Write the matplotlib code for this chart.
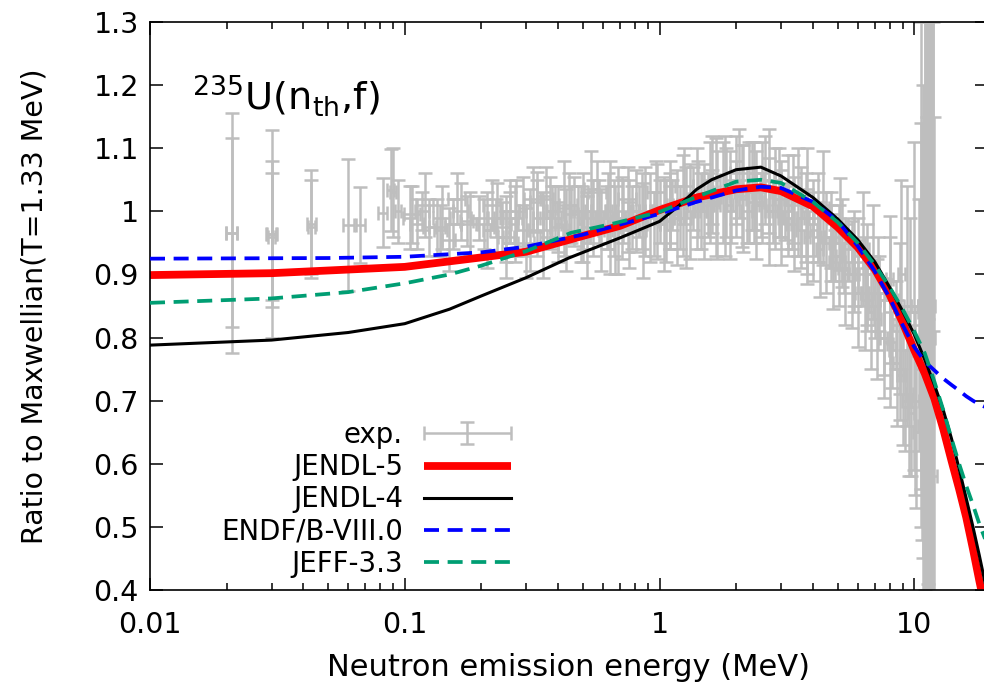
import matplotlib
matplotlib.use('Agg')
import matplotlib.pyplot as plt
import numpy as np
from matplotlib.container import ErrorbarContainer
from matplotlib.legend_handler import HandlerErrorbar
from matplotlib.ticker import FixedLocator, LogLocator, NullFormatter

plt.rcParams['font.family'] = ['DejaVu Sans']

# evaluated spectra, ratio to Maxwellian
e_jendl5 = [0.01, 0.03, 0.1, 0.2, 0.3, 0.5, 0.7, 1.0, 1.4, 2.0, 2.5, 3.0, 4.0, 5.0,
            6.0, 7.0, 8.0, 9.0, 10, 11, 12, 13, 14, 15, 16, 17, 18, 19]
r_jendl5 = [0.899, 0.902, 0.912, 0.927, 0.936, 0.961, 0.977, 1.002, 1.022, 1.035, 1.038,
            1.032, 1.008, 0.975, 0.943, 0.908, 0.868, 0.824, 0.780, 0.743, 0.703, 0.655,
            0.605, 0.560, 0.515, 0.465, 0.415, 0.370]

e_jendl4 = [0.01, 0.03, 0.06, 0.1, 0.15, 0.2, 0.3, 0.44, 0.7, 1.0, 1.2, 1.4, 1.6, 2.0,
            2.5, 3.0, 4.0, 5.0, 6.0, 7.0, 8.0, 9.0, 10, 11, 12, 13, 14, 15, 16, 17, 18, 19]
r_jendl4 = [0.788, 0.796, 0.808, 0.822, 0.845, 0.866, 0.895, 0.926, 0.958, 0.984, 1.010,
            1.035, 1.050, 1.066, 1.070, 1.056, 1.022, 0.988, 0.955, 0.920, 0.880, 0.842,
            0.805, 0.765, 0.725, 0.685, 0.640, 0.592, 0.545, 0.500, 0.455, 0.410]

e_endf = [0.01, 0.05, 0.1, 0.2, 0.3, 0.5, 0.7, 1.0, 1.4, 2.0, 2.5, 3.0, 4.0, 5.0, 6.0,
          7.0, 8.0, 9.0, 10, 11, 12, 13, 14, 15, 16, 17, 18, 19]
r_endf = [0.925, 0.926, 0.928, 0.935, 0.944, 0.963, 0.979, 0.996, 1.015, 1.033, 1.039,
          1.037, 1.015, 0.985, 0.945, 0.905, 0.863, 0.820, 0.785, 0.762, 0.748, 0.735,
          0.725, 0.716, 0.707, 0.700, 0.694, 0.690]

e_jeff = [0.01, 0.03, 0.06, 0.1, 0.15, 0.2, 0.3, 0.45, 0.65, 1.0, 1.4, 2.0, 2.5, 3.0,
          4.0, 5.0, 6.0, 7.0, 8.0, 9.0, 10, 11, 12, 13, 14, 15, 16, 17, 18, 19]
r_jeff = [0.855, 0.862, 0.872, 0.886, 0.900, 0.914, 0.937, 0.966, 0.980, 0.999, 1.023,
          1.047, 1.050, 1.045, 1.015, 0.983, 0.950, 0.915, 0.880, 0.845, 0.810, 0.775,
          0.730, 0.685, 0.640, 0.600, 0.565, 0.535, 0.505, 0.480]

# experimental points: energy, ratio, y error, relative half bin width
exp_e = [0.021, 0.021, 0.030, 0.030, 0.030, 0.043, 0.043, 0.060, 0.067, 0.082, 0.088,
         0.090, 0.094, 0.105, 0.107, 0.112, 0.117, 0.125, 0.134, 0.138, 0.149, 0.155,
         0.166, 0.175, 0.196, 0.205, 0.228, 0.24, 0.26, 0.273, 0.29, 0.30, 0.33, 0.35,
         0.36, 0.39, 0.42, 0.45, 0.48, 0.52, 0.54, 0.58, 0.62, 0.64, 0.69, 0.72, 0.78,
         0.83, 0.88, 0.95, 1.0, 1.06, 1.12, 1.2, 1.27, 1.35, 1.45, 1.55, 1.66, 1.8,
         1.9, 2.0, 2.1, 2.2, 2.35, 2.5, 2.7, 2.8, 3.0, 3.2, 3.3, 3.5, 3.6, 3.8, 4.0,
         4.2, 4.4, 4.7, 4.9, 5.1, 5.3, 5.5, 5.8, 6.0, 6.3, 6.5, 6.9, 7.0, 7.3, 7.6,
         8.0, 8.2, 8.5, 8.8, 8.9, 9.2, 9.4, 9.7, 10.0, 10.2, 10.6, 10.8, 11.0, 11.3,
         11.6, 11.8, 0.5, 0.75, 1.1, 1.6, 2.4, 3.1, 0.4, 0.25]
exp_r = [0.966, 0.966, 0.964, 0.964, 0.960, 0.980, 0.975, 0.978, 0.978, 0.998, 1.034,
         1.030, 1.000, 0.990, 0.995, 0.980, 1.000, 0.975, 0.975, 0.970, 0.955, 0.980,
         1.000, 0.985, 0.990, 0.980, 0.990, 0.975, 0.990, 0.990, 0.970, 0.950, 1.015,
         0.990, 1.020, 1.000, 1.005, 0.995, 1.000, 0.990, 1.035, 1.000, 0.990, 0.990,
         0.985, 1.000, 0.990, 1.000, 1.000, 0.980, 1.000, 0.985, 1.010, 0.990, 0.990,
         1.020, 1.000, 1.010, 1.023, 1.025, 1.000, 1.030, 1.024, 1.000, 1.030, 1.010,
         1.048, 1.000, 1.020, 0.990, 0.980, 1.015, 0.970, 1.000, 0.980, 0.960, 1.005,
         0.960, 0.930, 0.980, 0.910, 0.940, 0.900, 0.930, 0.940, 0.860, 0.920, 0.850,
         0.870, 0.800, 0.893, 0.780, 0.820, 0.740, 0.900, 0.700, 0.850, 0.680, 0.850,
         0.650, 0.850, 0.600, 0.850, 0.800, 0.750, 0.800, 0.960, 0.975, 0.995, 1.015,
         1.015, 1.000, 0.975, 0.960]
exp_dr = [0.190, 0.150, 0.165, 0.115, 0.100, 0.085, 0.075, 0.105, 0.060, 0.055, 0.065,
          0.070, 0.050, 0.050, 0.045, 0.040, 0.030, 0.045, 0.045, 0.040, 0.050, 0.040,
          0.045, 0.040, 0.035, 0.040, 0.030, 0.040, 0.040, 0.060, 0.040, 0.055, 0.048,
          0.040, 0.050, 0.040, 0.075, 0.045, 0.040, 0.040, 0.060, 0.050, 0.050, 0.090,
          0.085, 0.050, 0.050, 0.040, 0.070, 0.050, 0.050, 0.065, 0.040, 0.050, 0.080,
          0.050, 0.060, 0.050, 0.093, 0.095, 0.050, 0.050, 0.081, 0.050, 0.080, 0.050,
          0.082, 0.050, 0.060, 0.050, 0.040, 0.085, 0.040, 0.100, 0.050, 0.040, 0.090,
          0.050, 0.040, 0.073, 0.040, 0.050, 0.050, 0.060, 0.090, 0.050, 0.090, 0.050,
          0.060, 0.060, 0.100, 0.060, 0.070, 0.070, 0.150, 0.080, 0.190, 0.100, 0.260,
          0.120, 0.290, 0.150, 0.500, 0.600, 0.700, 0.550, 0.040, 0.040, 0.045, 0.050,
          0.045, 0.045, 0.040, 0.040]
exp_fx = [0.05, 0.05, 0.05, 0.04, 0.03, 0.04, 0.03, 0.05, 0.04, 0.04, 0.03, 0.03, 0.03,
          0.06, 0.07, 0.06, 0.06, 0.06, 0.07, 0.06, 0.06, 0.07, 0.07, 0.06, 0.07, 0.07,
          0.07, 0.07, 0.07, 0.06, 0.06, 0.07, 0.06, 0.06, 0.06, 0.07, 0.06, 0.06, 0.06,
          0.07, 0.06, 0.06, 0.06, 0.06, 0.06, 0.06, 0.06, 0.06, 0.06, 0.06, 0.06, 0.06,
          0.05, 0.05, 0.05, 0.05, 0.05, 0.05, 0.05, 0.05, 0.05, 0.05, 0.05, 0.05, 0.05,
          0.05, 0.05, 0.05, 0.05, 0.05, 0.05, 0.05, 0.05, 0.05, 0.05, 0.05, 0.05, 0.05,
          0.05, 0.05, 0.05, 0.05, 0.05, 0.05, 0.05, 0.05, 0.05, 0.05, 0.05, 0.05, 0.03,
          0.03, 0.03, 0.03, 0.03, 0.03, 0.03, 0.03, 0.03, 0.03, 0.02, 0.02, 0.02, 0.02,
          0.02, 0.02, 0.07, 0.07, 0.07, 0.07, 0.07, 0.07, 0.07, 0.07]

# second (dense, fine-binned) data set
exp2_e = [0.21, 0.23, 0.25, 0.27, 0.29, 0.31, 0.33, 0.35, 0.37, 0.40, 0.43, 0.46, 0.49,
          0.52, 0.55, 0.59, 0.63, 0.67, 0.71, 0.76, 0.81, 0.86, 0.92, 0.98, 1.04, 1.10,
          1.17, 1.24, 1.32, 1.40, 1.49, 1.58, 1.68, 1.78, 1.89, 2.00, 2.12, 2.25, 2.39,
          2.53, 2.68, 2.84, 3.01, 3.19, 3.38, 3.58, 3.79, 4.02, 4.26, 4.51, 4.78, 5.06,
          5.36, 5.68, 6.02, 6.38, 6.76, 7.16, 7.59, 8.04, 8.52, 9.03, 9.57, 10.1, 10.7,
          11.3, 11.9]
exp2_r = [0.97, 0.99, 0.96, 0.98, 1.00, 0.97, 0.99, 0.96, 1.00, 0.98, 0.97, 1.00, 0.98,
          0.96, 0.99, 0.97, 1.00, 0.97, 0.99, 0.98, 1.00, 0.97, 0.99, 1.00, 0.98, 1.01,
          0.99, 1.01, 1.00, 1.02, 1.00, 1.03, 1.01, 1.03, 1.01, 1.04, 1.02, 1.03, 1.01,
          1.03, 1.00, 1.02, 0.99, 1.01, 0.98, 0.99, 0.96, 0.97, 0.94, 0.95, 0.92, 0.93,
          0.90, 0.90, 0.87, 0.87, 0.84, 0.83, 0.80, 0.79, 0.76, 0.74, 0.71, 0.70, 0.66,
          0.62, 0.58]
exp2_dr = [0.060, 0.055, 0.065, 0.060, 0.055, 0.065, 0.060, 0.065, 0.055, 0.060, 0.065,
           0.055, 0.060, 0.065, 0.060, 0.065, 0.060, 0.070, 0.065, 0.070, 0.065, 0.075,
           0.070, 0.075, 0.075, 0.070, 0.075, 0.080, 0.075, 0.080, 0.075, 0.080, 0.085,
           0.080, 0.085, 0.080, 0.085, 0.080, 0.085, 0.080, 0.085, 0.080, 0.075, 0.080,
           0.075, 0.080, 0.075, 0.080, 0.075, 0.080, 0.075, 0.080, 0.080, 0.085, 0.085,
           0.090, 0.090, 0.095, 0.095, 0.100, 0.100, 0.110, 0.130, 0.150, 0.180, 0.210,
           0.230]

# third (coarse-binned) data set
exp3_e = [0.12, 0.14, 0.16, 0.18, 0.22, 0.26, 0.32, 0.38, 0.44, 0.50, 0.57, 0.66, 0.75,
          0.85, 0.97, 1.10, 1.25, 1.42, 1.60, 1.82, 2.05, 2.30, 2.60, 2.95, 3.35, 3.75,
          4.20, 4.70, 5.20, 5.80, 6.50, 7.20, 8.00, 8.80, 9.60, 10.4, 11.2]
exp3_r = [1.01, 0.99, 1.02, 0.98, 1.01, 1.00, 1.02, 0.99, 1.01, 1.00, 1.03, 0.99, 1.02,
          1.00, 1.03, 1.00, 1.04, 1.02, 1.05, 1.03, 1.06, 1.04, 1.05, 1.03, 1.02, 0.99,
          0.99, 0.96, 0.95, 0.92, 0.90, 0.87, 0.86, 0.83, 0.84, 0.82, 0.85]
exp3_dr = [0.05, 0.05, 0.04, 0.05, 0.04, 0.05, 0.05, 0.05, 0.05, 0.06, 0.05, 0.06, 0.05,
           0.06, 0.05, 0.06, 0.06, 0.06, 0.07, 0.07, 0.07, 0.07, 0.07, 0.07, 0.07, 0.07,
           0.07, 0.07, 0.07, 0.08, 0.08, 0.09, 0.10, 0.12, 0.15, 0.20, 0.30]

# high energy points with very large errors
exp4_e = [10.6, 10.8, 11.0, 11.2, 11.4, 11.6, 11.8, 12.0]
exp4_r = [0.90, 0.70, 1.00, 0.60, 0.90, 0.75, 0.80, 0.70]
exp4_dr = [0.40, 0.50, 0.60, 0.70, 0.80, 0.60, 0.50, 0.45]

xticks = [0.01, 0.1, 1, 10]
xtick_labels = ['0.01', '0.1', '1', '10']
yticks = [0.4, 0.5, 0.6, 0.7, 0.8, 0.9, 1.0, 1.1, 1.2, 1.3]
ytick_labels = ['0.4', '0.5', '0.6', '0.7', '0.8', '0.9', '1', '1.1', '1.2', '1.3']

fig = plt.figure(figsize=(9.84, 6.9), dpi=100)
ax = fig.add_axes([150 / 984, 1 - 590 / 690, 837 / 984, 568 / 690])

gray = '#bebebe'
ebstyle = dict(fmt='none', ecolor=gray, elinewidth=1.8, capsize=4.7, capthick=1.8, zorder=1)

exp_e = np.array(exp_e)
h_exp = ax.errorbar(exp_e, exp_r, xerr=exp_e * np.array(exp_fx), yerr=exp_dr,
                    label='exp.', **ebstyle)
exp2_e = np.array(exp2_e)
ax.errorbar(exp2_e, exp2_r, xerr=exp2_e * 0.03, yerr=exp2_dr, **ebstyle)
exp3_e = np.array(exp3_e)
ax.errorbar(exp3_e, exp3_r, xerr=exp3_e * 0.08, yerr=exp3_dr, **ebstyle)
exp4_e = np.array(exp4_e)
ax.errorbar(exp4_e, exp4_r, xerr=exp4_e * 0.01, yerr=exp4_dr, **ebstyle)

h5, = ax.plot(e_jendl5, r_jendl5, color='#ff0000', lw=5.6, label='JENDL-5', zorder=2,
              solid_capstyle='butt')
h4, = ax.plot(e_jendl4, r_jendl4, color='black', lw=2.2, label='JENDL-4', zorder=3)
hb, = ax.plot(e_endf, r_endf, color='#0000ff', lw=2.7, dashes=(4.0, 2.3),
              label='ENDF/B-VIII.0', zorder=4)
hj, = ax.plot(e_jeff, r_jeff, color='#009e73', lw=2.7, dashes=(4.0, 2.3),
              label='JEFF-3.3', zorder=5)

ax.set_xscale('log')
ax.set_xlim(0.01, 19.3)
ax.set_ylim(0.4, 1.3)
ax.xaxis.set_major_locator(FixedLocator(xticks))
ax.set_xticklabels(xtick_labels)
ax.xaxis.set_minor_locator(LogLocator(base=10, subs=np.arange(2, 10)))
ax.xaxis.set_minor_formatter(NullFormatter())
ax.set_yticks(yticks)
ax.set_yticklabels(ytick_labels)

ax.tick_params(which='both', direction='in', top=True, right=True, width=1.1,
               labelsize=20.5)
ax.tick_params(which='major', length=9)
ax.tick_params(which='minor', length=5)
ax.tick_params(axis='x', pad=15)
ax.tick_params(axis='y', pad=8)
for s in ax.spines.values():
    s.set_linewidth(1.2)

ax.set_xlabel('Neutron emission energy (MeV)', fontsize=22, labelpad=10)
ax.set_ylabel('Ratio to Maxwellian(T=1.33 MeV)', fontsize=20.5, labelpad=32)

ax.text(0.05, 0.845, r'$^{235}$U(n$_{\rm th}$,f)', transform=ax.transAxes,
        fontsize=27.5, ha='left', va='baseline')

ax.legend([h_exp, h5, h4, hb, hj], ['exp.', 'JENDL-5', 'JENDL-4', 'ENDF/B-VIII.0', 'JEFF-3.3'],
          loc='lower right', bbox_to_anchor=(0.431, 0.022), frameon=False,
          markerfirst=False, fontsize=19.8, handlelength=3.16, handletextpad=0.76,
          labelspacing=0.15, borderpad=0, borderaxespad=0,
          handler_map={ErrorbarContainer: HandlerErrorbar(xerr_size=1.58, yerr_size=0.4)})

fig.savefig('out.png', dpi=100)
